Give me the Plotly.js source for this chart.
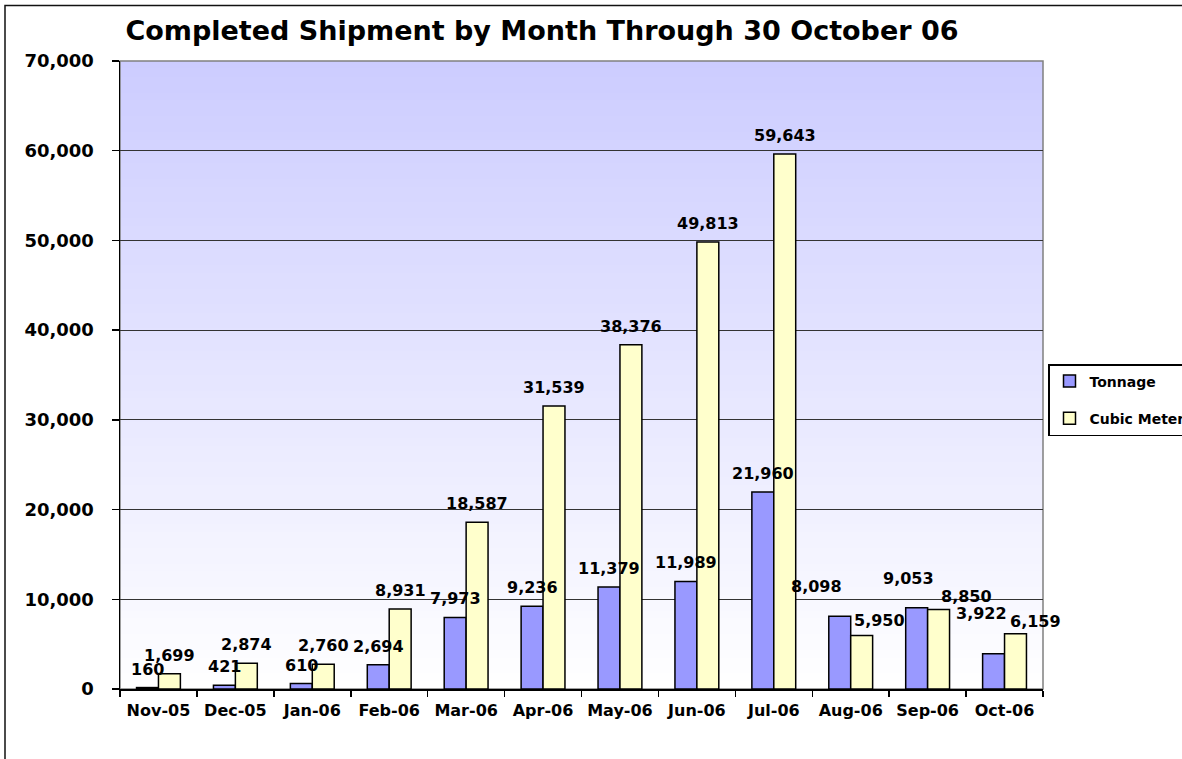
<!DOCTYPE html>
<html>
<head>
<meta charset="utf-8">
<script src="https://cdn.plot.ly/plotly-3.0.1.min.js"></script>
<style>
html,body{margin:0;padding:0;background:#fff;}
#chart{width:1182px;height:759px;}
</style>
</head>
<body>
<div id="chart"></div>
<script>
// ---- data ----
var months = ["Nov-05","Dec-05","Jan-06","Feb-06","Mar-06","Apr-06","May-06","Jun-06","Jul-06","Aug-06","Sep-06","Oct-06"];
var tonnage = [160, 421, 610, 2694, 7973, 9236, 11379, 11989, 21960, 8098, 9053, 3922];
var cubicMeters = [1699, 2874, 2760, 8931, 18587, 31539, 38376, 49813, 59643, 5950, 8850, 6159];
var seriesNames = ["Tonnage", "Cubic Meters"];
var chartTitle = "Completed Shipment by Month Through 30 October 06";

// ---- styling (label nudges, px) ----
var tonLabelDX = [0,0,0,0,0,0,0,0,0,-23,-8,-12];
var tonLabelDY = [0,0,0,0,0,0,0,0,0,11,11,22];
var cubLabelDX = [0,0,0,0,0,0,0,0,0,18,28,20];
var cubLabelDY = [0,0,0,0,0,0,0,0,0,-3,-5,-6];

var FONT = "DejaVu Sans, Arial, sans-serif";
var barHalf = 10.95;
var baseDY = 7;

var traces = [
  {type:"bar", name:seriesNames[0], x:months, y:tonnage,
   marker:{color:"#9999FF", line:{color:"#000", width:1.5}},
   legendgroup:"a", hoverinfo:"x+y"},
  {type:"bar", name:seriesNames[1], x:months, y:cubicMeters,
   marker:{color:"#FFFFCC", line:{color:"#000", width:1.5}},
   legendgroup:"b", hoverinfo:"x+y"}
];

function fmt(v){ return v.toLocaleString("en-US"); }

var annotations = [];
months.forEach(function(m,i){
  annotations.push({x:m, y:tonnage[i], xref:"x", yref:"y", text:fmt(tonnage[i]), showarrow:false,
    yanchor:"bottom", xanchor:"center", xshift:-barHalf+tonLabelDX[i], yshift:baseDY+tonLabelDY[i],
    font:{family:FONT, size:16, color:"#000", weight:"bold"}});
  annotations.push({x:m, y:cubicMeters[i], xref:"x", yref:"y", text:fmt(cubicMeters[i]), showarrow:false,
    yanchor:"bottom", xanchor:"center", xshift:barHalf+cubLabelDX[i], yshift:baseDY+cubLabelDY[i],
    font:{family:FONT, size:16, color:"#000", weight:"bold"}});
});

// gradient background strips
var shapes = [];
var N = 80;
for (var k=0;k<N;k++){
  var f0 = k/N, f1 = (k+1)/N;
  var t = (f0+f1)/2; // 0 bottom, 1 top
  var r = Math.round(255 - 51*t), g = Math.round(255 - 51*t), b = 255;
  shapes.push({type:"rect", xref:"paper", yref:"paper", x0:0, x1:1, y0:f0, y1:Math.min(1,f1+0.002),
    fillcolor:"rgb("+r+","+g+","+b+")", line:{width:0}, layer:"below"});
}
// plot-area border (gray top/right)
shapes.push({type:"rect", xref:"paper", yref:"paper", x0:0, x1:1, y0:0, y1:1,
  line:{color:"#808080", width:1.5}, layer:"below"});
// outer chart frame
shapes.push({type:"rect", xref:"paper", yref:"paper", x0:(5-120)/923, x1:1.4, y0:-0.3, y1:(689-5.5)/628,
  line:{color:"#111", width:1.5}, fillcolor:"rgba(0,0,0,0)", layer:"above"});

var layout = {
  width:1182, height:759,
  margin:{l:120, r:139, t:61, b:70, pad:0, autoexpand:false},
  paper_bgcolor:"#fff", plot_bgcolor:"rgba(0,0,0,0)",
  font:{family:FONT, color:"#000"},
  title:{text:"<b>"+chartTitle+"</b>", font:{family:FONT, size:27, color:"#000"},
    x:542/1182, xref:"container", xanchor:"center", y:1-31/759, yref:"container", yanchor:"middle"},
  barmode:"group", bargap:0.43, bargroupgap:0,
  xaxis:{type:"category", range:[-0.5, months.length-0.5], autorange:false,
    showline:true, linecolor:"#000", linewidth:1.5,
    ticks:"outside", tickson:"boundaries", ticklen:6, tickcolor:"#000", tickwidth:1.5, tickangle:0,
    tickfont:{family:FONT, size:16, color:"#000", weight:"bold"}, ticklabelstandoff:6,
    showgrid:false, fixedrange:true, automargin:false},
  yaxis:{range:[0,70000], autorange:false, dtick:10000, tickformat:",d", showline:true, linecolor:"#000", linewidth:1.5,
    ticks:"outside", ticklen:7, tickcolor:"#000", tickwidth:1.5,
    tickfont:{family:FONT, size:18, color:"#000", weight:"bold"}, ticklabelstandoff:14,
    showgrid:true, gridcolor:"#333", gridwidth:1, zeroline:false, fixedrange:true, automargin:false},
  showlegend:true,
  legend:{x:(1048-120)/923, xanchor:"left", y:(689-364)/628, yanchor:"top",
    bordercolor:"#000", borderwidth:1.5, bgcolor:"#fff", traceorder:"grouped", tracegroupgap:16,
    font:{family:FONT, size:14, color:"#000", weight:"bold"}},
  annotations:annotations,
  shapes:shapes
};

Plotly.newPlot("chart", traces, layout, {displayModeBar:false, staticPlot:true});
</script>
</body>
</html>
